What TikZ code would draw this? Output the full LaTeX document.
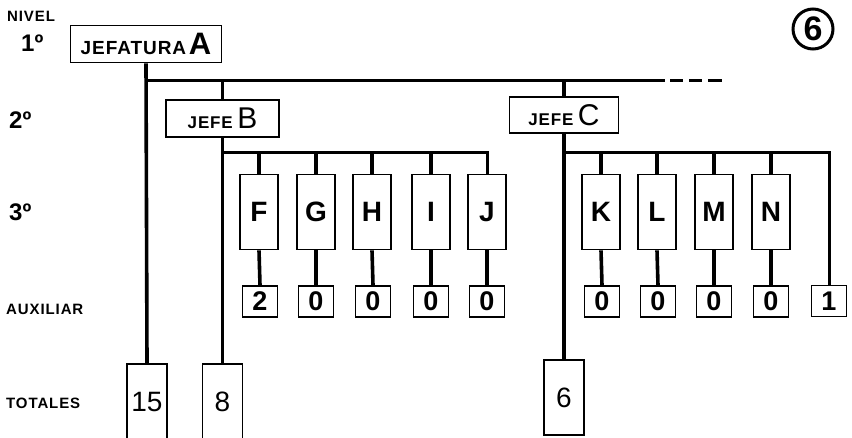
\documentclass[tikz,border=0pt]{standalone}
\usepackage{fontspec}
\setmainfont{Liberation Sans}
\newfontfamily\lblfont[LetterSpace=6]{Liberation Sans}
\newfontfamily\jefont[LetterSpace=5]{Liberation Sans}
\begin{document}
\begin{tikzpicture}[x=1pt,y=-1pt,
  box/.style={draw, line width=1.8pt, inner sep=0pt},
  colbox/.style={box, minimum width=38pt, minimum height=75pt, font=\bfseries\fontsize{28}{28}\selectfont},
  auxbox/.style={box, minimum width=35pt, minimum height=31pt, font=\bfseries\fontsize{27}{27}\selectfont},
  totbox/.style={box, minimum width=40pt, font=\fontsize{28}{28}\selectfont},
  lvl/.style={anchor=west, inner sep=0pt, font=\lblfont\bfseries\fontsize{15}{15}\selectfont},
  ord/.style={anchor=west, inner sep=0pt, font=\bfseries\fontsize{24}{24}\selectfont},
  vconn/.style={line width=3.6pt},
  bus/.style={line width=3pt}]
\useasboundingbox (0,0) rectangle (852,437);
% level labels
\node[lvl] (nivel) at (7,16) {NIVEL};
\node[ord] (n1) at (21,43) {1º};
\node[ord] (n2) at (9,120) {2º};
\node[ord] (n3) at (9,212) {3º};
\node[lvl] (naux) at (6,309) {AUXILIAR};
\node[lvl] (ntot) at (6,403) {TOTALES};
% circled number
\node[draw, circle, line width=3pt, minimum size=40pt, inner sep=0pt, font=\bfseries\fontsize{34}{34}\selectfont] (six) at (813,29) {6};
% top boxes
\node[box, minimum width=151pt, minimum height=37pt] (A) at (146,44)
  {{\jefont\bfseries\fontsize{19}{19}\selectfont JEFATURA}\;{\bfseries\fontsize{31}{31}\selectfont A}};
\node[box, minimum width=113pt, minimum height=37pt] (B) at (222.5,118.5)
  {{\jefont\bfseries\fontsize{17}{17}\selectfont JEFE}\;\,{\fontsize{30}{30}\selectfont B}};
\node[box, minimum width=109pt, minimum height=36pt] (C) at (564,115)
  {{\jefont\bfseries\fontsize{17}{17}\selectfont JEFE}\;\,{\fontsize{30}{30}\selectfont C}};
% third level
\foreach \n/\x in {F/259,G/316,H/372,I/431,J/487,K/601,L/657,M/714,N/771}{
  \node[colbox] (\n) at (\x,212) {\n};
}
% auxiliaries
\foreach \n/\x/\t in {F/260/2,G/316/0,H/373/0,I/431/0,J/487/0,K/602/0,L/658/0,M/714/0,N/771/0}{
  \node[auxbox] (a\n) at (\x,301.5) {\t};
}
\node[auxbox] (aX) at (829,301) {1};
% totals
\node[totbox, minimum height=80pt] (t15) at (147,404) {\raisebox{4pt}{15}};
\node[totbox, minimum height=80pt] (t8) at (222.5,404) {\raisebox{4pt}{8}};
\node[totbox, minimum height=75pt] (t6) at (564,397.5) {6};
% coordinates
\coordinate (hA) at (146,80);
\coordinate (hEnd) at (665,80);
\coordinate (d1) at (670,80);
\coordinate (d2) at (722,80);
\coordinate (bB) at (222.5,152);
\coordinate (bC) at (564,152);
% connectors
\draw[vconn] (A.south) -- (t15.north);
\draw[bus] (hA) -- (hEnd);
\draw[bus, dash pattern=on 13pt off 6pt on 13pt off 6pt on 14pt off 20pt] (d1) -- (d2);
\draw[vconn] (hA -| B.north) -- (B.north);
\draw[vconn] (hA -| C.north) -- (C.north);
\draw[vconn] (B.south) -- (t8.north);
\draw[vconn] (C.south) -- (t6.north);
\draw[bus] (bB) -| (J.north);
\draw[bus] (bC) -| (aX.north);
\foreach \n in {F,G,H,I}{ \draw[vconn] (bB -| \n.north) -- (\n.north); }
\foreach \n in {K,L,M,N}{ \draw[vconn] (bC -| \n.north) -- (\n.north); }
\foreach \n in {F,G,H,I,J,K,L,M,N}{ \draw[vconn] (\n.south) -- (a\n.north); }
\end{tikzpicture}
\end{document}
